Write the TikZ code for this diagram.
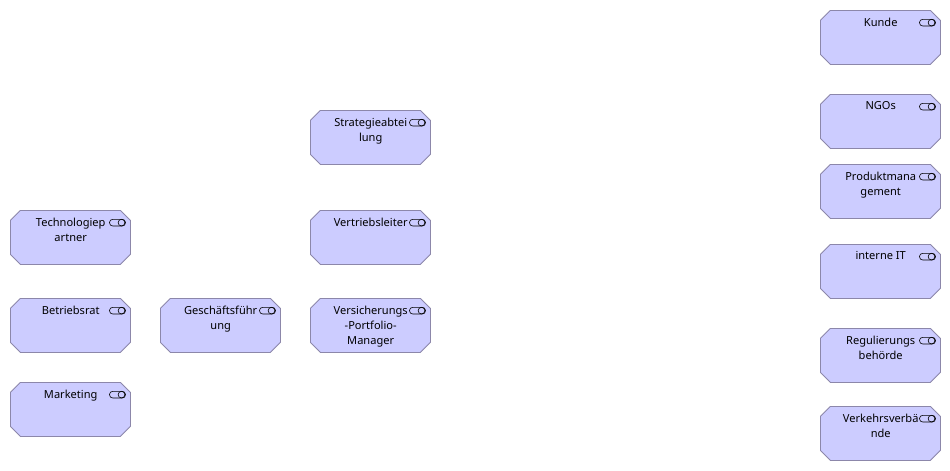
\documentclass[tikz,border=0pt]{standalone}
\usepackage{fontspec}
\setmainfont{Noto Sans}
\usetikzlibrary{calc}
\definecolor{boxfill}{RGB}{204,204,255}
\definecolor{boxline}{RGB}{140,135,170}
\tikzset{
  x=0.75pt,y=-0.75pt,
  rolebox/.style={minimum width=90pt,minimum height=40.5pt,inner sep=0pt,outer sep=0pt},
  boxedge/.style={draw=boxline,fill=boxfill,line width=0.6pt},
  roletext/.style={anchor=north,align=center,font=\fontsize{8.3}{11.25}\selectfont,inner sep=0pt,text=black},
  roleicon/.style={draw=black,line width=0.45pt,fill=none}
}
\newcommand{\rolenode}[4]{%
  \node[rolebox] (#1) at (#2+60.4,#3+27.4) {};
  \draw[boxedge] (#2+10.4,#3+.4) -- (#2+110.4,#3+.4) -- (#2+120.4,#3+10.4) -- (#2+120.4,#3+44.4) -- (#2+110.4,#3+54.4) -- (#2+10.4,#3+54.4) -- (#2+.4,#3+44.4) -- (#2+.4,#3+10.4) -- cycle;
  \node[roletext] (#1t) at (#2+60.7,#3+7.5) {#4};
  \draw[roleicon,rounded corners=2.4pt] (#2+99.5,#3+9.3) rectangle (#2+115.5,#3+16);
  \draw[roleicon] (#2+111.5,#3+12.65) circle[radius=3.35];
}
\begin{document}
\begin{tikzpicture}
\useasboundingbox (0,0) rectangle (950,471);
\rolenode{kunde}{820}{10}{Kunde}
\rolenode{ngos}{820}{94}{NGOs}
\rolenode{prod}{820}{164}{Produktmana\\gement}
\rolenode{it}{820}{244}{interne IT}
\rolenode{reg}{820}{328}{Regulierungs\\behörde}
\rolenode{verk}{820}{406}{Verkehrsverbä\\nde}
\rolenode{strat}{310}{110}{Strategieabtei\\lung}
\rolenode{vert}{310}{210}{Vertriebsleiter}
\rolenode{vers}{310}{298}{Versicherungs\\-Portfolio-\\Manager}
\rolenode{gf}{160}{298}{Geschäftsführ\\ung}
\rolenode{tech}{10}{210}{Technologiep\\artner}
\rolenode{brat}{10}{298}{Betriebsrat}
\rolenode{mark}{10}{382}{Marketing}
\end{tikzpicture}
\end{document}
